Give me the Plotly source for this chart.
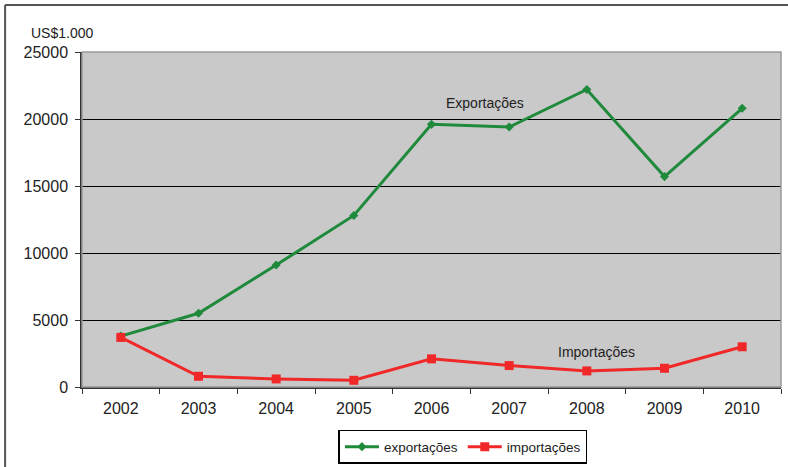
import plotly.graph_objects as go

years = ["2002", "2003", "2004", "2005", "2006", "2007", "2008", "2009", "2010"]
exportacoes = [3800, 5500, 9100, 12800, 19600, 19400, 22200, 15700, 20800]
importacoes = [3700, 800, 600, 500, 2100, 1600, 1200, 1400, 3000]
y_ticks = [0, 5000, 10000, 15000, 20000, 25000]

green = "#1f8a3c"
red = "#f02828"
font_family = "Liberation Sans, Arial, sans-serif"

fig = go.Figure()
fig.add_trace(go.Scatter(
    x=years, y=exportacoes, name="exportações", mode="lines+markers",
    line=dict(color=green, width=3),
    marker=dict(symbol="diamond", size=7, color=green),
))
fig.add_trace(go.Scatter(
    x=years, y=importacoes, name="importações", mode="lines+markers",
    line=dict(color=red, width=3),
    marker=dict(symbol="square", size=9, color=red),
))

fig.update_layout(
    width=788, height=467,
    margin=dict(l=82, r=7, t=52, b=80, autoexpand=False),
    paper_bgcolor="white",
    plot_bgcolor="#c9c9c9",
    font=dict(family=font_family, size=16, color="#222222"),
    showlegend=True,
    legend=dict(
        orientation="h", x=0.545, xanchor="center", y=-0.128, yanchor="top",
        bordercolor="black", borderwidth=1.5, bgcolor="white",
        font=dict(size=13.5, color="#222222"), itemwidth=34,
        tracegroupgap=0,
    ),
    xaxis=dict(
        type="category", range=[-0.5, 8.5], tickson="boundaries",
        ticks="outside", ticklen=5, tickcolor="#333333",
        showline=True, linecolor="#333333", linewidth=1.5,
        showgrid=False, tickfont=dict(size=16), ticklabelstandoff=6,
    ),
    yaxis=dict(
        range=[0, 25000], tickvals=y_ticks, ticktext=[str(v) for v in y_ticks],
        ticks="outside", ticklen=5, tickcolor="#333333",
        showline=True, linecolor="#333333", linewidth=1.5,
        showgrid=True, gridcolor="black", gridwidth=1.2,
        zeroline=False, tickfont=dict(size=16), ticklabelstandoff=4,
    ),
    annotations=[
        dict(x=4.69, y=21200, xref="x", yref="y", text="Exportações",
             showarrow=False, font=dict(size=14, color="#222222")),
        dict(x=6.13, y=2600, xref="x", yref="y", text="Importações",
             showarrow=False, font=dict(size=14, color="#222222")),
        dict(x=-0.029, y=1.057, xref="paper", yref="paper", text="US$1.000",
             showarrow=False, xanchor="center", yanchor="middle",
             font=dict(size=14, color="#222222")),
    ],
    shapes=[
        dict(type="rect", xref="paper", yref="paper",
             x0=0, x1=1, y0=0, y1=1, line=dict(color="#999999", width=1.5),
             layer="above"),
        dict(type="line", xref="paper", yref="paper",
             x0=-0.110, x1=1.05, y0=1.140, y1=1.140,
             line=dict(color="#555555", width=2)),
        dict(type="line", xref="paper", yref="paper",
             x0=-0.110, x1=-0.110, y0=-0.30, y1=1.140,
             line=dict(color="#555555", width=2)),
    ],
)

fig.write_html("out.html")
